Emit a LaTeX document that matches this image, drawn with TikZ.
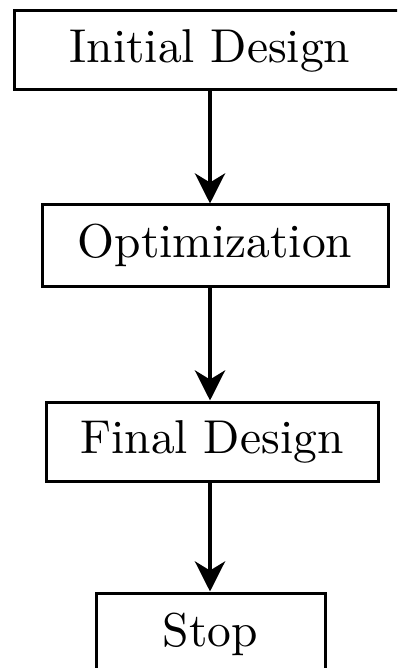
\documentclass[tikz,border=0pt]{standalone}
\usetikzlibrary{arrows.meta}
% stage labels: the 10pt text design, enlarged
\newcommand\stagelabel[1]{\scalebox{4.75}{#1}}
\begin{document}
\begin{tikzpicture}[x=1pt,y=-1pt,
  stagebox/.style={draw=black, line width=3pt, fill=white, inner sep=0pt},
  flowarrow/.style={line width=4.5pt,
    -{Stealth[length=30pt,width=30pt,inset=9pt]}}]
  \useasboundingbox (0,0) rectangle (397,668);
  \clip (0,0) rectangle (397,668);
  % vertical axis carrying the connectors
  \coordinate (axis) at (210,0);
  % stages of the flow
  \node[stagebox, minimum width=392pt, minimum height=79pt] (init) at (210,50.5) {\stagelabel{Initial Design}};
  \node[stagebox, minimum width=346pt, minimum height=81pt] (opt) at (215,245.5) {\stagelabel{Optimization}};
  \node[stagebox, minimum width=332pt, minimum height=79pt] (final) at (212,441.5) {\stagelabel{Final Design}};
  \node[stagebox, minimum width=229pt, minimum height=82pt] (stop) at (210.5,634) {\stagelabel{Stop}};
  % connectors
  \draw[flowarrow] (init.south -| axis) -- (opt.north -| axis);
  \draw[flowarrow] (opt.south -| axis) -- (final.north -| axis);
  \draw[flowarrow] (final.south -| axis) -- (stop.north -| axis);
\end{tikzpicture}
\end{document}
